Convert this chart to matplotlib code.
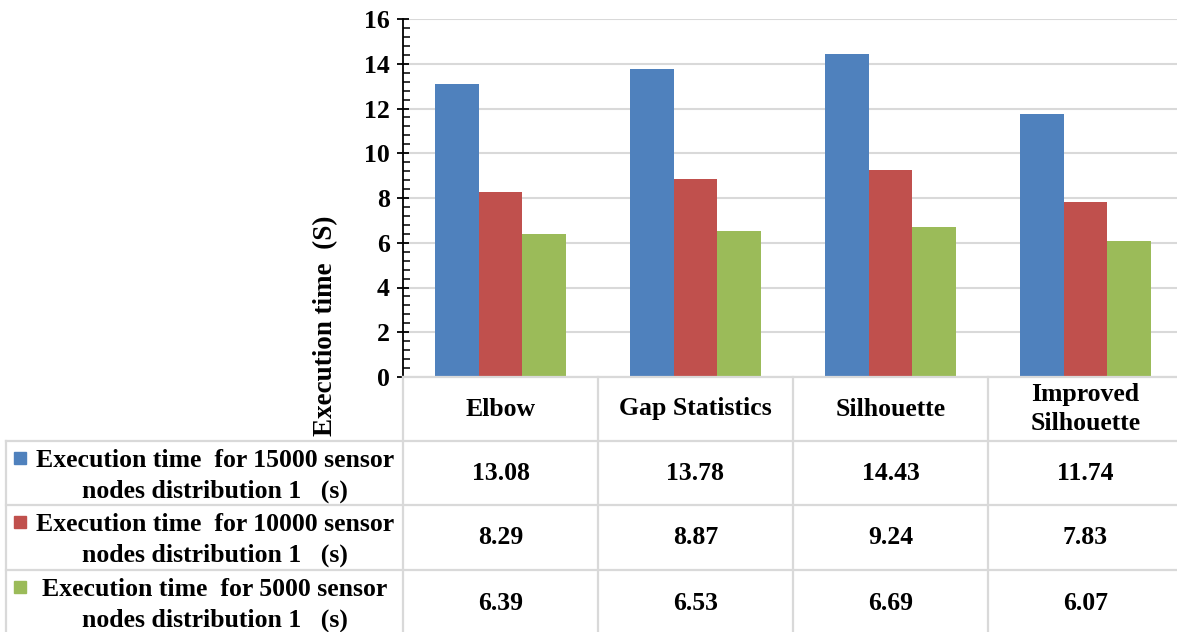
import matplotlib
matplotlib.use("Agg")
import matplotlib.pyplot as plt
from matplotlib.ticker import MultipleLocator

plt.rcParams['font.family'] = ['Liberation Serif', 'DejaVu Serif']
plt.rcParams['font.weight'] = 'bold'

categories = ["Elbow", "Gap Statistics", "Silhouette", "Improved\nSilhouette"]
series_names = [
    "Execution time  for 15000 sensor\nnodes distribution 1   (s)",
    "Execution time  for 10000 sensor\nnodes distribution 1   (s)",
    "Execution time  for 5000 sensor\nnodes distribution 1   (s)",
]
t15000 = [13.08, 13.78, 14.43, 11.74]
t10000 = [8.29, 8.87, 9.24, 7.83]
t5000 = [6.39, 6.53, 6.69, 6.07]
series = [t15000, t10000, t5000]
colors = ["#4F81BD", "#C0504D", "#9BBB59"]

W, H = 1177, 632
fig = plt.figure(figsize=(W / 100, H / 100), dpi=100)
fs = 18.5

# bar area in pixels
left, right, top, bottom = 403, 1183, 19, 377
ax = fig.add_axes([left / W, 1 - bottom / H, (right - left) / W, (bottom - top) / H])

bw = 0.223
for i, (vals, c) in enumerate(zip(series, colors)):
    xs = [k + 0.5 + (i - 1) * bw for k in range(len(categories))]
    ax.bar(xs, vals, width=bw, color=c, zorder=3)

ax.set_xlim(0, len(categories))
ax.set_ylim(0, 16)
ax.yaxis.set_major_locator(MultipleLocator(2))
ax.yaxis.set_minor_locator(MultipleLocator(0.4))
ax.set_xticks([])
ax.grid(axis='y', color='#D9D9D9', linewidth=1.5, zorder=0)
for s in ['top', 'right', 'bottom']:
    ax.spines[s].set_visible(False)
ax.spines['left'].set_linewidth(1.3)
ax.tick_params(axis='y', which='major', direction='inout', length=9, width=1.3,
               labelsize=fs, pad=5)
ax.tick_params(axis='y', which='minor', direction='in', length=5, width=1.1)
for lab in ax.get_yticklabels():
    lab.set_fontweight('bold')

fig.text(326 / W, 1 - 326 / H, "Execution time  (S)", rotation=90, ha='center',
         va='center', fontsize=fs + 1, fontweight='bold')

# data table under the chart
tab = fig.add_axes([0, 0, 1, 1], zorder=5)
tab.set_xlim(0, W)
tab.set_ylim(H, 0)
tab.axis('off')
tab.patch.set_alpha(0)

fig.canvas.draw()
edges = [ax.transData.transform((k, 0))[0] for k in range(len(categories) + 1)]
rows = [377, 441, 505, 570, 636]
lc = '#D9D9D9'
lw = 1.6
tab.plot([edges[0], W], [rows[0], rows[0]], color=lc, lw=lw)
for y in rows[1:4]:
    tab.plot([6, W], [y, y], color=lc, lw=lw)
tab.plot([6, 6], [rows[1], H], color=lc, lw=lw)
for x in edges[:-1]:
    tab.plot([x, x], [rows[0], H], color=lc, lw=lw)

for k, cat in enumerate(categories):
    cx = (edges[k] + edges[k + 1]) / 2
    tab.text(cx, (rows[0] + rows[1]) / 2, cat, ha='center', va='center',
             fontsize=fs, fontweight='bold', linespacing=1.3)
    for r, vals in enumerate(series):
        tab.text(cx, (rows[r + 1] + rows[r + 2]) / 2, f"{vals[k]:.2f}",
                 ha='center', va='center', fontsize=fs, fontweight='bold')

for r, (name, c) in enumerate(zip(series_names, colors)):
    ytop = rows[r + 1]
    tab.add_patch(plt.Rectangle((14, ytop + 11), 12, 12, color=c))
    tab.text(215, ytop + 35, name, ha='center', va='center', fontsize=fs,
             fontweight='bold', multialignment='center', linespacing=1.38)

fig.savefig("out.png", dpi=100)
